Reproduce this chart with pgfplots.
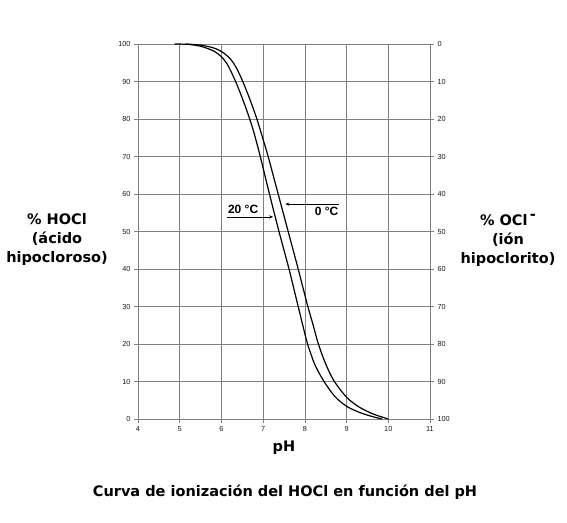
\documentclass[border=0pt]{standalone}
\usepackage{pgfplots}
\pgfplotsset{compat=1.18}
\usepackage{fontspec}
\setmainfont{Liberation Sans}
\newfontfamily\heavy{DejaVu Sans}
\usetikzlibrary{arrows.meta}
\begin{document}
\begin{tikzpicture}
\useasboundingbox (0,0) rectangle (567pt,522pt);
\begin{axis}[
  at={(138pt,103pt)}, anchor=south west,
  scale only axis, width=292pt, height=375pt,
  xmin=4, xmax=11, ymin=0, ymax=100,
  xtick={4,...,11}, ytick={0,10,...,100},
  grid=major,
  major grid style={draw=black!50, line width=0.6pt},
  axis line style={draw=black!50, line width=0.6pt},
  tick style={draw=black!50, line width=0.6pt},
  tick align=outside, major tick length=4pt,
  axis y line*=left, axis x line*=bottom,
  ticklabel style={font=\fontsize{7.3}{8}\selectfont, text=black!90},
  /pgf/number format/assume math mode=true,
  clip=false,
]
% 20 C
\addplot[black, line width=1.2pt, smooth] coordinates {
 (4.88,100) (5.2,99.9) (5.5,99.4) (5.8,98.2) (6.0,96.6) (6.15,94.4) (6.3,91)
 (6.45,87) (6.6,82.5) (6.75,77.5) (6.92,70.5) (7.14,60.5) (7.38,50) (7.62,40)
 (7.84,30) (8.04,21) (8.14,17.5) (8.26,14) (8.46,10) (8.72,6) (9.0,3.4)
 (9.3,1.8) (9.6,0.7) (9.85,0)
};
% 0 C
\addplot[black, line width=1.2pt, smooth] coordinates {
 (5.15,100) (5.5,99.7) (5.8,99.0) (6.0,98) (6.2,96.2) (6.35,93.8) (6.5,90.3)
 (6.68,85.3) (6.85,80) (7.0,74.5) (7.12,70) (7.36,60) (7.6,50) (7.84,40)
 (8.06,30.5) (8.2,25) (8.31,20.5) (8.47,15.5) (8.68,10.5) (9.0,5.8) (9.3,3.2)
 (9.6,1.5) (9.8,0.7) (10.0,0)
};
\draw[-{Stealth[length=4pt,width=3pt]}, line width=0.6pt] (axis cs:6.13,53.9) -- (axis cs:7.24,53.9);
\node[anchor=south west, inner sep=1pt, font=\bfseries\fontsize{12}{14}\selectfont] at (axis cs:6.13,54.4) {20 °C};
\draw[-{Stealth[length=4pt,width=3pt]}, line width=0.6pt] (axis cs:8.83,57.3) -- (axis cs:7.53,57.3);
\node[anchor=north east, inner sep=1pt, font=\bfseries\fontsize{12}{14}\selectfont] at (axis cs:8.83,56.8) {0 °C};
\end{axis}
\begin{axis}[
  at={(138pt,103pt)}, anchor=south west,
  scale only axis, width=292pt, height=375pt,
  xmin=4, xmax=11, ymin=0, ymax=100,
  y dir=reverse,
  axis y line*=right, axis x line=none,
  ytick={0,10,...,100},
  axis line style={draw=black!50, line width=0.6pt},
  tick style={draw=black!50, line width=0.6pt},
  tick align=outside, major tick length=4pt,
  ticklabel style={font=\fontsize{7.3}{8}\selectfont, text=black!90},
  /pgf/number format/assume math mode=true,
]
\end{axis}
\node[align=center, font=\heavy\bfseries\fontsize{14.5}{19}\selectfont] at (57pt,282pt) {\% HOCl\\(ácido\\hipocloroso)};
\node[align=center, font=\heavy\bfseries\fontsize{14.5}{19}\selectfont] at (508pt,282pt) {\% OCl\,\raisebox{0.75ex}{-}\\(ión\\hipoclorito)};
\node[font=\heavy\bfseries\fontsize{14.5}{16}\selectfont] at (284pt,74pt) {pH};
\node[font=\heavy\bfseries\fontsize{14.5}{16}\selectfont] at (285pt,30pt) {Curva de ionización del HOCl en función del pH};
\end{tikzpicture}
\end{document}
